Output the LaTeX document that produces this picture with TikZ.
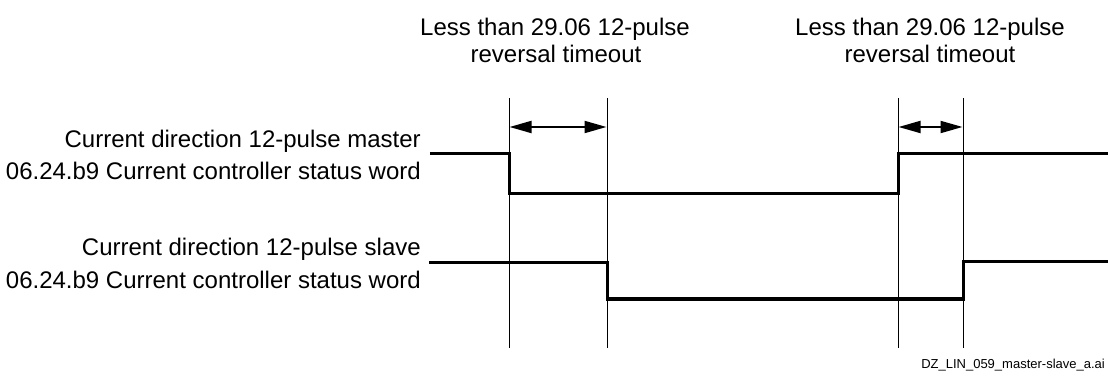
\documentclass[tikz,border=0pt]{standalone}
\usepackage{fontspec}
\setmainfont{Liberation Sans}
\usetikzlibrary{arrows.meta}
\begin{document}
\begin{tikzpicture}[x=1pt,y=-1pt,
  lbl/.style={inner sep=0pt,font=\fontsize{24}{27}\selectfont},
  sig/.style={line width=3pt,line join=miter},
  guide/.style={line width=0.9pt},
  span/.style={line width=1.8pt,{Triangle[length=22pt,width=12pt]}-{Triangle[length=22pt,width=12pt]},shorten <=0.5pt,shorten >=0.5pt}]
\useasboundingbox (0,0) rectangle (1108,379);
% vertical guide lines
\coordinate (g1t) at (509,98);  \coordinate (g1b) at (509,348);
\coordinate (g2t) at (607,98);  \coordinate (g2b) at (607,348);
\coordinate (g3t) at (898,98);  \coordinate (g3b) at (898,348);
\coordinate (g4t) at (963,98);  \coordinate (g4b) at (963,348);
\draw[guide] (g1t) -- (g1b);
\draw[guide] (g2t) -- (g2b);
\draw[guide] (g3t) -- (g3b);
\draw[guide] (g4t) -- (g4b);
% duration arrows
\coordinate (a1l) at (509,127); \coordinate (a1r) at (607,127);
\coordinate (a2l) at (898,127); \coordinate (a2r) at (963,127);
\draw[span] (a1l) -- (a1r);
\draw[span] (a2l) -- (a2r);
% master signal
\coordinate (m0) at (430,154);
\coordinate (m1) at (509,154);
\coordinate (m2) at (509,194);
\coordinate (m3) at (898,194);
\coordinate (m4) at (898,154);
\coordinate (m5) at (1108,154);
\draw[sig] (m0) -- (m1) -- (m2) -- (m3) -- (m4) -- (m5);
% slave signal
\coordinate (s0) at (429,263);
\coordinate (s1) at (607,263);
\coordinate (s2) at (607,299);
\coordinate (s3) at (963,299);
\coordinate (s4) at (963,262);
\coordinate (s5) at (1108,262);
\draw[sig] (s0) -- (s1) -- (s2) -- (s3) -- (s4) -- (s5);
% top labels
\node[lbl,anchor=base] (t1a) at (555,36) {Less than 29.06 12-pulse};
\node[lbl,anchor=base] (t1b) at (556,63) {reversal timeout};
\node[lbl,anchor=base] (t2a) at (930,36) {Less than 29.06 12-pulse};
\node[lbl,anchor=base] (t2b) at (930,63) {reversal timeout};
% left labels
\node[lbl,anchor=base east] (ml1) at (421,148) {Current direction 12-pulse master};
\node[lbl,anchor=base east] (ml2) at (421,180) {06.24.b9 Current controller status word};
\node[lbl,anchor=base east] (sl1) at (421,256) {Current direction 12-pulse slave};
\node[lbl,anchor=base east] (sl2) at (421,289) {06.24.b9 Current controller status word};
% file name
\node[inner sep=0pt,anchor=base east,font=\fontsize{13}{15}\selectfont] (fn) at (1105,368) {DZ\_LIN\_059\_master-slave\_a.ai};
\end{tikzpicture}
\end{document}
